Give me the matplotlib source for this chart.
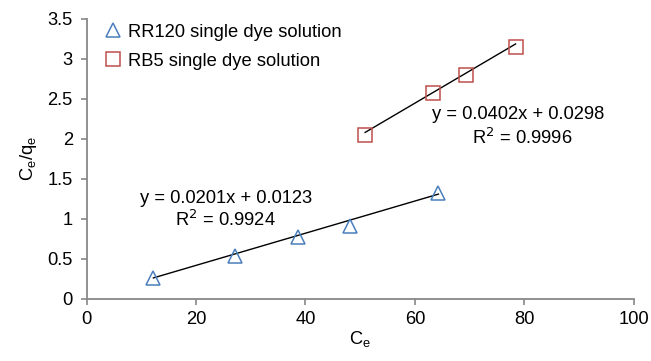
import matplotlib
matplotlib.use("Agg")
import matplotlib.pyplot as plt
import numpy as np

plt.rcParams['font.family'] = ['Liberation Sans', 'DejaVu Sans']

# Equilibrium concentration Ce and Ce/qe for each dye
rr120_ce = [12.2, 27.1, 38.7, 48.1, 64.3]
rr120_ratio = [0.259, 0.537, 0.766, 0.904, 1.32]
rb5_ce = [50.9, 63.4, 69.3, 78.4]
rb5_ratio = [2.04, 2.565, 2.79, 3.15]

# Linear fit coefficients (slope, intercept) and R^2
rr120_fit = (0.0201, 0.0123, 0.9924)
rb5_fit = (0.0402, 0.0298, 0.9996)

series_labels = ["RR120 single dye solution", "RB5 single dye solution"]
x_ticks = [0, 20, 40, 60, 80, 100]
y_ticks = [0, 0.5, 1, 1.5, 2, 2.5, 3, 3.5]
y_tick_labels = ["0", "0.5", "1", "1.5", "2", "2.5", "3", "3.5"]

blue = "#4a7ebb"
red = "#c0504d"
gray = "#888888"
fs = 13.2

fig = plt.figure(figsize=(6.51, 3.61), dpi=100)
ax = fig.add_axes([86.7 / 651, 1 - 298.5 / 361, 547 / 651, 280 / 361])

ax.plot(rr120_ce, rr120_ratio, linestyle="none", marker="^", ms=10,
        mfc="none", mec=blue, mew=1.1, label=series_labels[0])
ax.plot(rb5_ce, rb5_ratio, linestyle="none", marker="s", ms=9.5,
        mfc="none", mec=red, mew=1.1, label=series_labels[1])

# Trend lines over the range of each series
for xs, (m, b, _) in ((rr120_ce, rr120_fit), (rb5_ce, rb5_fit)):
    xl = np.array([min(xs), max(xs)])
    ax.plot(xl, m * xl + b, color="black", lw=1.0, zorder=1)

ax.text(25.4, 1.194, f"y = {rr120_fit[0]:.4f}x + {rr120_fit[1]:.4f}",
        ha="center", va="baseline", fontsize=fs)
ax.text(25.3, 0.906, f"R$^2$ = {rr120_fit[2]:.4f}",
        ha="center", va="baseline", fontsize=fs)
ax.text(78.9, 2.244, f"y = {rb5_fit[0]:.4f}x + {rb5_fit[1]:.4f}",
        ha="center", va="baseline", fontsize=fs)
ax.text(79.7, 1.931, f"R$^2$ = {rb5_fit[2]:.4f}",
        ha="center", va="baseline", fontsize=fs)

ax.set_xlim(0, 100)
ax.set_ylim(0, 3.5)
ax.set_xticks(x_ticks)
ax.set_yticks(y_ticks)
ax.set_yticklabels(y_tick_labels)
ax.tick_params(labelsize=fs, color=gray, length=4, width=1.2, direction="out")
ax.tick_params(axis="x", pad=5)
ax.tick_params(axis="y", pad=6)
for side in ("top", "right"):
    ax.spines[side].set_visible(False)
for side in ("left", "bottom"):
    ax.spines[side].set_color(gray)
    ax.spines[side].set_linewidth(1.3)

ax.set_xlabel("C$_\\mathregular{e}$", fontsize=fs, labelpad=1)
ax.set_ylabel("C$_\\mathregular{e}$/q$_\\mathregular{e}$", fontsize=fs, labelpad=6)

ax.legend(loc="upper left", bbox_to_anchor=(0.0, 1.036), frameon=False,
          fontsize=fs, handletextpad=0.2, labelspacing=0.64,
          handlelength=1.2, borderaxespad=0.44)

fig.savefig("out.png", dpi=100)
